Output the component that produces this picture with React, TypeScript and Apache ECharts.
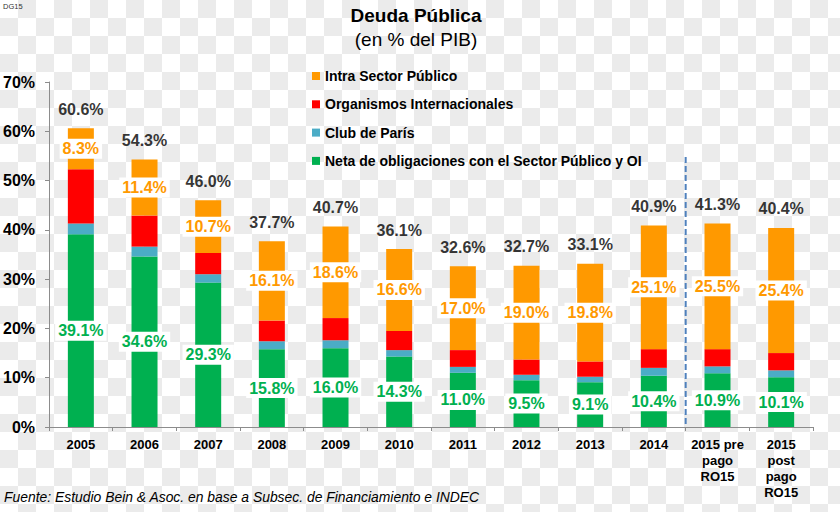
import React, { useEffect, useRef } from "react";
import * as echarts from "echarts";

const categories = [
  "2005", "2006", "2007", "2008", "2009", "2010", "2011", "2012", "2013", "2014",
  "2015 pre\npago\nRO15", "2015\npost\npago\nRO15",
];
const neta = [39.1, 34.6, 29.3, 15.8, 16.0, 14.3, 11.0, 9.5, 9.1, 10.4, 10.9, 10.1];
const club = [2.2, 2.0, 1.7, 1.6, 1.6, 1.3, 1.2, 1.1, 1.1, 1.6, 1.4, 1.4];
const oi = [11.0, 6.3, 4.3, 4.2, 4.5, 3.9, 3.4, 3.1, 3.1, 3.8, 3.5, 3.5];
const intra = [8.3, 11.4, 10.7, 16.1, 18.6, 16.6, 17.0, 19.0, 19.8, 25.1, 25.5, 25.4];
const totals = [60.6, 54.3, 46.0, 37.7, 40.7, 36.1, 32.6, 32.7, 33.1, 40.9, 41.3, 40.4];

const FONT = "'Liberation Sans', Arial, sans-serif";
const GREEN = "#00B050";
const BLUE = "#4BACC6";
const RED = "#FF0000";
const ORANGE = "#FF9900";

export default function App() {
  const ref = useRef<HTMLDivElement>(null);
  useEffect(() => {
    if (!ref.current) return;
    const chart = echarts.init(ref.current, null, { renderer: "svg" });
    const segLabel = (color: string) => ({
      show: true,
      position: "inside",
      formatter: (p: any) => Number(p.value).toFixed(1) + "%",
      color,
      fontFamily: FONT,
      fontWeight: "bold",
      fontSize: 16,
      backgroundColor: "#fff",
      padding: [2, 3],
    });
    const option: any = {
      animation: false,
      backgroundColor: "transparent",
      textStyle: { fontFamily: FONT },
      grid: { left: 49, right: 27, top: 82, bottom: 85, containLabel: false },
      legend: {
        orient: "vertical",
        left: 312,
        top: 68,
        padding: 0,
        itemWidth: 8,
        itemHeight: 8,
        itemGap: 12.3,
        icon: "rect",
        textStyle: { fontFamily: FONT, fontWeight: "bold", fontSize: 14, color: "#000", lineHeight: 16 },
        data: [
          "Intra Sector Público",
          "Organismos Internacionales",
          "Club de París",
          "Neta de obligaciones con el Sector Público y OI",
        ],
      },
      xAxis: {
        type: "category",
        data: categories,
        axisLine: { lineStyle: { color: "#8c8c8c", width: 1 } },
        axisTick: { show: true, length: 4, lineStyle: { color: "#8c8c8c" } },
        axisLabel: {
          interval: 0,
          margin: 9,
          color: "#000",
          fontFamily: FONT,
          fontWeight: "bold",
          fontSize: 13,
          lineHeight: 16,
        },
      },
      yAxis: {
        type: "value",
        min: 0,
        max: 70,
        interval: 10,
        splitLine: { show: false },
        axisLine: { show: true, lineStyle: { color: "#8c8c8c", width: 1 } },
        axisTick: { show: true, length: 4, lineStyle: { color: "#8c8c8c" } },
        axisLabel: {
          formatter: "{value}%",
          margin: 14,
          color: "#000",
          fontFamily: FONT,
          fontWeight: "bold",
          fontSize: 16,
        },
      },
      series: [
        {
          name: "Neta de obligaciones con el Sector Público y OI",
          type: "bar",
          stack: "d",
          barWidth: 26,
          data: neta,
          itemStyle: { color: GREEN },
          label: segLabel(GREEN),
        },
        {
          name: "Club de París",
          type: "bar",
          stack: "d",
          barWidth: 26,
          data: club,
          itemStyle: { color: BLUE },
        },
        {
          name: "Organismos Internacionales",
          type: "bar",
          stack: "d",
          barWidth: 26,
          data: oi,
          itemStyle: { color: RED },
        },
        {
          name: "Intra Sector Público",
          type: "bar",
          stack: "d",
          barWidth: 26,
          data: intra,
          itemStyle: { color: ORANGE },
          label: segLabel(ORANGE),
        },
        {
          name: "Total",
          type: "scatter",
          data: totals,
          symbolSize: 0,
          itemStyle: { color: "transparent" },
          label: {
            show: true,
            position: "top",
            distance: 11,
            formatter: (p: any) => Number(p.value).toFixed(1) + "%",
            color: "#000",
            fontFamily: FONT,
            fontWeight: "bold",
            fontSize: 16,
          },
          z: 5,
        },
      ],
      graphic: [
        {
          id: "dg",
          type: "text",
          x: 3,
          y: 6,
          style: { text: "DG15", fontFamily: FONT, fontSize: 7.5, fill: "#333", textVerticalAlign: "middle" },
        },
        {
          id: "t1",
          type: "text",
          x: 416,
          y: 15,
          style: {
            text: "Deuda Pública",
            fontFamily: FONT,
            fontWeight: "bold",
            fontSize: 19,
            fill: "#000",
            textAlign: "center",
            textVerticalAlign: "middle",
          },
        },
        {
          id: "t2",
          type: "text",
          x: 416,
          y: 39,
          style: {
            text: "(en % del PIB)",
            fontFamily: FONT,
            fontSize: 19,
            fill: "#000",
            textAlign: "center",
            textVerticalAlign: "middle",
          },
        },
        {
          id: "src",
          type: "text",
          x: 4,
          y: 497,
          style: {
            text: "Fuente: Estudio Bein & Asoc. en base a Subsec. de Financiamiento e INDEC",
            fontFamily: FONT,
            fontStyle: "italic",
            fontSize: 13.9,
            fill: "#000",
            textVerticalAlign: "middle",
          },
        },
      ],
    };
    chart.setOption(option);
    const xa = chart.convertToPixel({ xAxisIndex: 0 }, categories[9]) as number;
    const xb = chart.convertToPixel({ xAxisIndex: 0 }, categories[10]) as number;
    const y0 = chart.convertToPixel({ yAxisIndex: 0 }, 0) as number;
    const yT = chart.convertToPixel({ yAxisIndex: 0 }, 54.8) as number;
    const xm = (xa + xb) / 2;
    chart.setOption({
      graphic: [
        {
          id: "sep",
          type: "line",
          shape: { x1: xm, y1: yT, x2: xm, y2: y0 },
          style: { stroke: "#4F81BD", lineWidth: 2, lineDash: [6, 3] },
          z: 10,
        },
      ],
    });
    return () => chart.dispose();
  }, []);
  return (
    <div
      ref={ref}
      style={{
        position: "fixed",
        left: 0,
        top: 0,
        width: 840,
        height: 512,
        backgroundColor: "#fff",
        backgroundImage: "repeating-conic-gradient(#ebebeb 0 25%, #ffffff 0 50%)",
        backgroundSize: "36px 36px",
        backgroundPosition: "0 0",
      }}
    />
  );
}
